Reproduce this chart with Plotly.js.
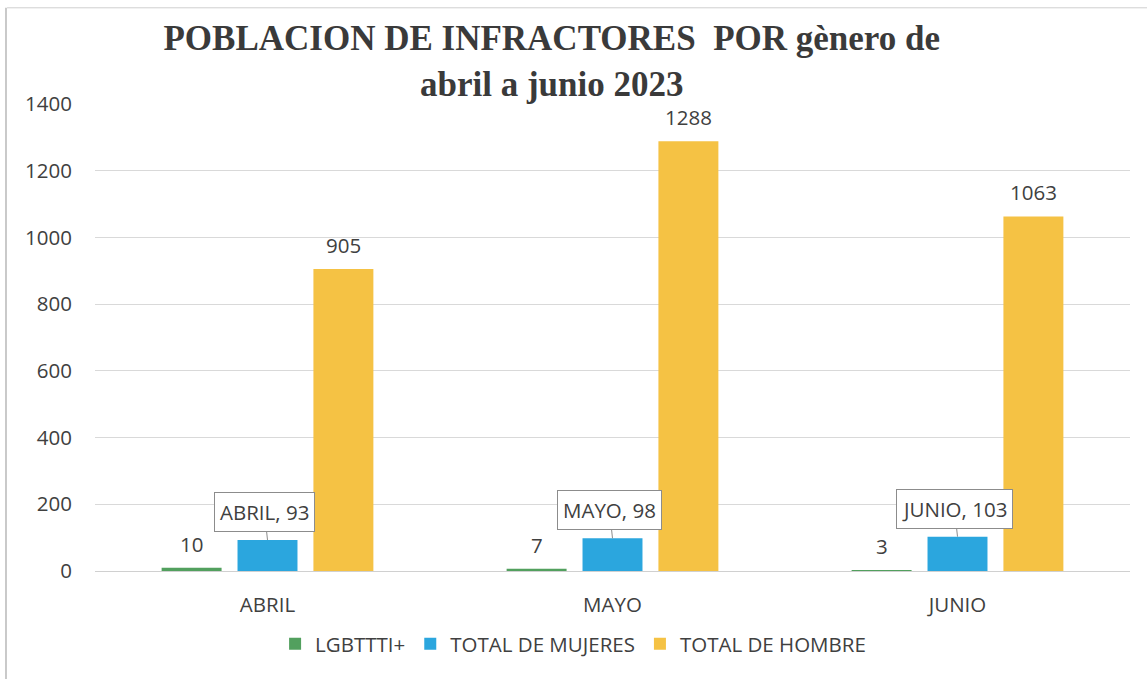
<!DOCTYPE html>
<html>
<head>
<meta charset="utf-8">
<script src="https://cdn.plot.ly/plotly-3.0.1.min.js"></script>
<style>html,body{margin:0;padding:0;background:#fff;}</style>
</head>
<body>
<div id="chart" style="width:1147px;height:679px;"></div>
<script>
const months = ["ABRIL", "MAYO", "JUNIO"];
const lgbt = [10, 7, 3];
const mujeres = [93, 98, 103];
const hombres = [905, 1288, 1063];
const seriesNames = ["LGBTTTI+", "TOTAL DE MUJERES", "TOTAL DE HOMBRE"];
const yTicks = [0, 200, 400, 600, 800, 1000, 1200, 1400];

const FONT = "Open Sans, Noto Sans, sans-serif";
const TXT = "#404040";
const FS = 20.5;

const W = 1147, H = 679;
const M = {l: 95, r: 17, t: 104, b: 108};
const BARGAP = 0.34, BARGROUPGAP = 0.21;
// width of one bar slot inside a category group (derived from layout)
const slot = ((W - M.l - M.r) / months.length) * (1 - BARGAP) / 3;

const traces = [
  {type: "bar", name: seriesNames[0], x: months, y: lgbt, marker: {color: "#52a05e"}},
  {type: "bar", name: seriesNames[1], x: months, y: mujeres, marker: {color: "#2ba6de"}},
  {type: "bar", name: seriesNames[2], x: months, y: hombres, marker: {color: "#f5c244"}}
];

const valueLabels = (vals, shift) => vals.map((v, i) => ({
  x: months[i], y: v, xref: "x", yref: "y",
  text: String(v), showarrow: false,
  xshift: shift, yshift: 24, yanchor: "middle",
  font: {family: FONT, size: FS, color: TXT}
}));

const callouts = months.map((m, i) => ({
  x: m, y: mujeres[i], xref: "x", yref: "y",
  text: m + ", " + mujeres[i],
  showarrow: true, arrowhead: 0, arrowwidth: 1, arrowcolor: "#8c8c8c",
  ax: -3, ay: -28,
  bgcolor: "#ffffff", bordercolor: "#8c8c8c", borderwidth: 1, borderpad: 5,
  font: {family: FONT, size: FS, color: TXT}
}));

const layout = {
  width: W, height: H,
  margin: M,
  paper_bgcolor: "#ffffff", plot_bgcolor: "#ffffff",
  title: {
    text: "POBLACION DE INFRACTORES  POR gènero de<br>abril a junio 2023",
    font: {family: "Liberation Serif, serif", size: 35, color: "#3a3a3a", weight: "bold"},
    x: 0.481, xref: "container", xanchor: "center",
    y: 0.926, yref: "container", yanchor: "top"
  },
  barmode: "group",
  bargap: BARGAP,
  bargroupgap: BARGROUPGAP,
  showlegend: true,
  legend: {
    orientation: "h", x: 0.174, xanchor: "left", y: -0.156, yanchor: "middle",
    font: {family: FONT, size: FS, color: TXT},
    itemclick: false
  },
  xaxis: {
    type: "category",
    showgrid: false, zeroline: false,
    showline: false,
    ticks: "outside", ticklen: 15, tickcolor: "rgba(0,0,0,0)",
    tickfont: {family: FONT, size: FS, color: TXT}
  },
  yaxis: {
    range: [0, 1400], tickvals: yTicks,
    showgrid: true, gridcolor: "#d9d9d9", gridwidth: 1,
    zeroline: true, zerolinecolor: "#d0d0d0", zerolinewidth: 1,
    showline: false,
    ticks: "outside", ticklen: 18, tickcolor: "rgba(0,0,0,0)",
    tickfont: {family: FONT, size: FS, color: TXT}
  },
  annotations: valueLabels(lgbt, -slot).concat(valueLabels(hombres, slot), callouts),
  shapes: [
    {type: "line", xref: "paper", yref: "paper", x0: -0.085, x1: 1.02, y0: 1.206, y1: 1.206,
     line: {color: "#cfcfcf", width: 1}, layer: "below"},
    {type: "line", xref: "paper", yref: "paper", x0: -0.086, x1: -0.086, y0: -0.232, y1: 1.206,
     line: {color: "#b8b8b8", width: 1.5}, layer: "below"}
  ]
};

Plotly.newPlot("chart", traces, layout, {displayModeBar: false, staticPlot: true});
</script>
</body>
</html>
